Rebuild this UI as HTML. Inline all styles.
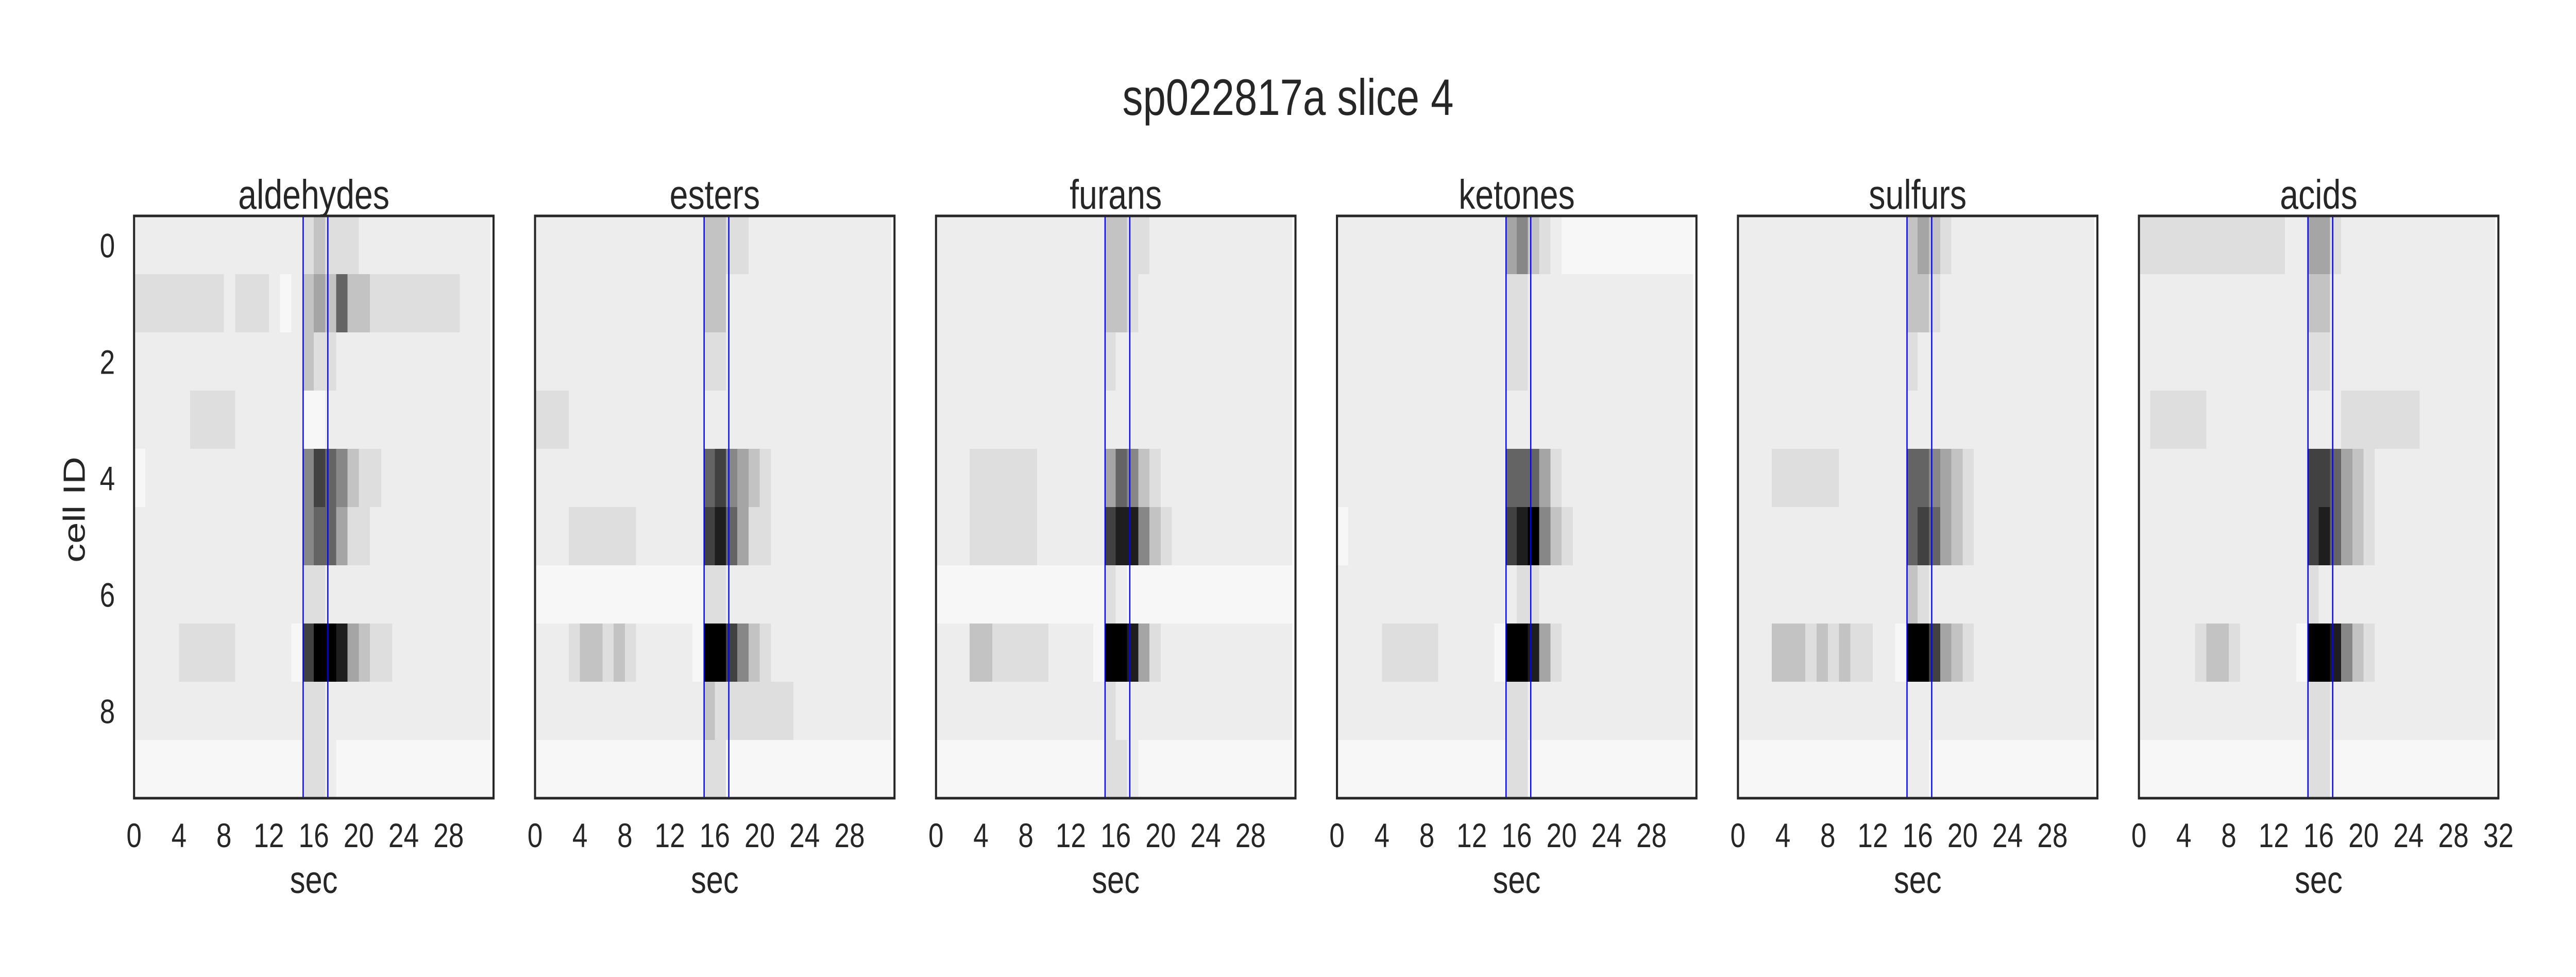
<!DOCTYPE html>
<html>
<head>
<meta charset="utf-8">
<style>
html,body{margin:0;padding:0;background:#fff;overflow:hidden;width:100vw;height:100vh;}
svg{display:block;width:100vw;height:100vh;}
text{font-family:"Liberation Sans",Arial,sans-serif;fill:#262626;}
</style>
</head>
<body>
<svg id="fig" viewBox="0 0 6206 1896" preserveAspectRatio="none" xmlns="http://www.w3.org/2000/svg">
<rect x="0" y="0" width="6206" height="1896" fill="#fff"/>
<text x="3103" y="223" font-size="99" text-anchor="middle">sp022817a slice 4</text>
<g id="panels"></g>
</svg>
<script>
// ---- data ----
const panelNames = ["aldehydes","esters","furans","ketones","sulfurs","acids"];
const cellIds = [0,1,2,3,4,5,6,7,8,9];
const yTickLabels = [0,2,4,6,8];
const xTickLabels = [0,4,8,12,16,20,24,28];
const xTickLabelsLast = [0,4,8,12,16,20,24,28,32];
const eventTimes = [15.05, 17.25];
const dataEnd = 31.7;
// intensity per 1-second bin (0 = white … 9 = black), one string per cell row
const aldehydes = [
"11111111111111123222111111111111",
"22222222122210134363322222222111",
"11111111111111132211111111111111",
"11111222211111100111111111111111",
"01111111111111157653221111111111",
"11111111111111156642211111111111",
"11111111111111122111111111111111",
"11112222211111079984322111111111",
"11111111111111122111111111111111",
"00000000000000022100000000000000"];
const esters = [
"11111111111111133221111111111111",
"11111111111111133111111111111111",
"11111111111111122111111111111111",
"22211111111111111111111111111111",
"11111111111111167543211111111111",
"11122222211111178642211111111111",
"00000000000000022111111111111111",
"11123323211111099753211111111111",
"11111111111111132222222111111111",
"00000000000000022000000000000000"];
const furans = [
"11111111111111133221111111111111",
"11111111111111133211111111111111",
"11111111111111121111111111111111",
"11111111111111111111111111111111",
"11122222211111146532111111111111",
"11122222211111178853211111111111",
"00000000000000021000000000000000",
"11133222221111099842111111111111",
"11111111111111121111111111111111",
"00000000000000022100000000000000"];
const ketones = [
"11111111111111145321000000000000",
"11111111111111122111111111111111",
"11111111111111122111111111111111",
"11111111111111111111111111111111",
"11111111111111166642111111111111",
"01111111111111178953211111111111",
"11111111111111112211111111111111",
"11112222211111099842111111111111",
"11111111111111122111111111111111",
"00000000000000022000000000000000"];
const sulfurs = [
"11111111111111134321111111111111",
"11111111111111133211111111111111",
"11111111111111121111111111111111",
"11111111111111111111111111111111",
"11122222211111166543211111111111",
"11111111111111167643211111111111",
"11111111111111132111111111111111",
"11133323232211099743211111111111",
"11111111111111111111111111111111",
"00000000000000011000000000000000"];
const acids = [
"22222222222221144211111111111111",
"11111111111111133111111111111111",
"11111111111111122111111111111111",
"12222211111111111122222221111111",
"11111111111111177643211111111111",
"11111111111111178643211111111111",
"11111111111111121111111111111111",
"11111233211111099853211111111111",
"11111111111111122111111111111111",
"00000000000000022000000000000000"];
const panelData = [aldehydes, esters, furans, ketones, sulfurs, acids];
const grayLevels = [247,237,222,195,165,135,100,65,30,0];

// ---- layout ----
const NS = "http://www.w3.org/2000/svg";
const P0 = 323, PSTEP = 966, PW = 866, PT = 419, PH = 1130;
const XMAX = 32;
function xScale(p, t){ return P0 + p*PSTEP + t/XMAX*PW; }
function yScale(r){ return PT + (r+0.5)*PH/cellIds.length; }
const rowH = PH/cellIds.length;
function mk(tag, attrs, parent){
  const e = document.createElementNS(NS, tag);
  for (const k in attrs) e.setAttribute(k, attrs[k]);
  parent.appendChild(e); return e;
}
const root = document.getElementById("panels");
panelNames.forEach((name, p) => {
  const g = mk("g", {}, root);
  
  
  const hm = mk("g", {"shape-rendering":"crispEdges"}, g);
  
  
  panelData[p].forEach((row, r) => {
    for (let k = 0; k < row.length; k++) {
      const t0 = k, t1 = Math.min(k+1, dataEnd);
      if (t1 <= t0) continue;
      const v = grayLevels[+row[k]];
      const x0 = xScale(p, t0), x1 = xScale(p, t1);
      const c = mk("rect", {x:x0, y:yScale(r)-rowH/2, width:(x1-x0)+0.6, height:rowH+0.6, fill:`rgb(${v},${v},${v})`}, hm);
      
      
    }
  });
  eventTimes.forEach((t, i) => {
    const l = mk("line", {x1:xScale(p,t), x2:xScale(p,t), y1:PT, y2:PT+PH, stroke:"#0000ff", "stroke-width":3}, g);
    
    
  });
  const fr = mk("rect", {x:xScale(p,0), y:PT, width:PW, height:PH, fill:"none", stroke:"#262626", "stroke-width":5}, g);
  
  
  const tt = mk("text", {x:xScale(p,16), y:405, "font-size":80, "text-anchor":"middle"}, g);
  tt.textContent = name;
  
  
  const labs = p === panelNames.length-1 ? xTickLabelsLast : xTickLabels;
  labs.forEach(v => {
    const tx = mk("text", {x:xScale(p,v), y:1644, "font-size":66, "text-anchor":"middle"}, g);
    tx.textContent = v;
    
    
  });
  const xl = mk("text", {x:xScale(p,16), y:1733, "font-size":74, "text-anchor":"middle"}, g);
  xl.textContent = "sec";
  
  
  if (p === 0) {
    yTickLabels.forEach(v => {
      const ty = mk("text", {x:277, y:yScale(v)+24, "font-size":66, "text-anchor":"end"}, g);
      ty.textContent = v;
      
      
    });
    const yl = mk("text", {x:0, y:0, "font-size":74, "text-anchor":"middle", transform:"translate(204,989) rotate(-90)"}, g);
    yl.textContent = "cell ID";
    
    
  }
});
</script>
</body>
</html>
